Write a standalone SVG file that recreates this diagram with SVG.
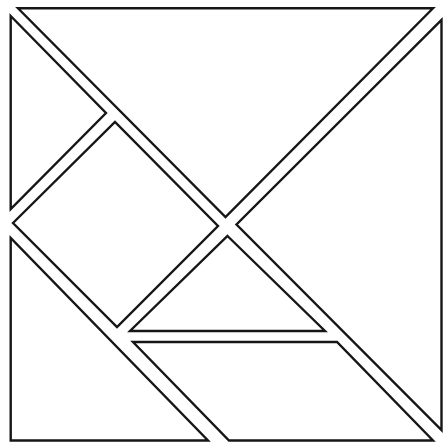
<svg xmlns="http://www.w3.org/2000/svg" width="444" height="443" viewBox="0 0 444 443">
<style>
.piece{fill:#ffffff;stroke:#161616;stroke-width:2.4;stroke-linejoin:miter;stroke-miterlimit:20}
</style>
<rect x="0" y="0" width="444" height="443" fill="#ffffff"/>
<g id="top-triangle"><polygon class="piece" points="18,8.3 433,8.3 225.5,217"/></g>
<g id="right-triangle"><polygon class="piece" points="441.5,20 441.5,430 236.5,224.5"/></g>
<g id="small-triangle-left"><polygon class="piece" points="10.7,16 106,113 10.7,209"/></g>
<g id="square"><polygon class="piece" points="13,223 115,122 218,226 117,327"/></g>
<g id="lower-triangle"><polygon class="piece" points="10.7,238 10.7,440.5 208,440.5"/></g>
<g id="small-triangle-middle"><polygon class="piece" points="227.5,236 325,331 130,331"/></g>
<g id="parallelogram"><polygon class="piece" points="133,342 337,342 433,440.5 229,440.5"/></g>
</svg>
